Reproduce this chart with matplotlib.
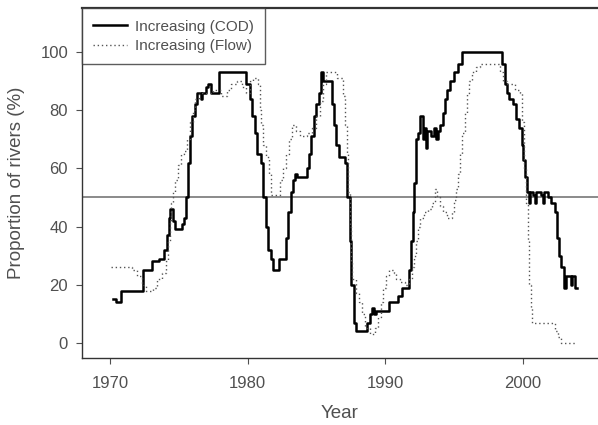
import matplotlib
matplotlib.use("Agg")
import matplotlib.pyplot as plt

# Increasing (COD): step points
cod_years = [1970.2, 1970.45, 1970.8, 1972.4, 1973.05, 1973.6, 1973.95, 1974.15, 1974.3, 1974.4,
             1974.6, 1974.75, 1975.2, 1975.4, 1975.55, 1975.7, 1975.8, 1975.95, 1976.15, 1976.35,
             1976.6, 1976.7, 1977.0, 1977.15, 1977.35, 1977.95, 1979.9, 1980.2, 1980.35, 1980.5,
             1980.7, 1980.95, 1981.15, 1981.35, 1981.5, 1981.7, 1981.85, 1982.3, 1982.8, 1982.95,
             1983.15, 1983.3, 1983.45, 1983.55, 1984.3, 1984.45, 1984.6, 1984.8, 1985.0, 1985.15,
             1985.3, 1985.5, 1986.1, 1986.25, 1986.45, 1986.6, 1987.05, 1987.25, 1987.4, 1987.5,
             1987.7, 1987.85, 1988.65, 1988.85, 1989.0, 1989.15, 1989.3, 1990.3, 1990.9, 1991.2,
             1991.7, 1991.85, 1992.0, 1992.1, 1992.2, 1992.35, 1992.55, 1992.7, 1992.8, 1992.95,
             1993.05, 1993.3, 1993.5, 1993.7, 1993.85, 1994.0, 1994.2, 1994.35, 1994.5, 1994.7,
             1994.95, 1995.3, 1995.55, 1998.45, 1998.7, 1998.8, 1999.0, 1999.3, 1999.5, 1999.7,
             1999.9, 2000.0, 2000.15, 2000.3, 2000.4, 2000.5, 2000.7, 2000.85, 2000.95, 2001.3,
             2001.45, 2001.55, 2001.8, 2002.0, 2002.3, 2002.45, 2002.6, 2002.75, 2002.95, 2003.15,
             2003.45, 2003.55, 2003.75, 2003.9]
cod_values = [15, 14, 18, 25, 28, 29, 32, 37, 43, 46,
              42, 39, 41, 43, 50, 62, 71, 78, 82, 86,
              84, 86, 88, 89, 86, 93, 89, 84, 78, 72,
              65, 62, 50, 40, 32, 29, 25, 29, 36, 45,
              52, 56, 58, 57, 60, 65, 71, 78, 82, 86,
              93, 90, 82, 75, 68, 64, 62, 50, 35, 20,
              7, 4, 7, 10, 12, 10, 11, 14, 16, 19,
              25, 35, 45, 55, 70, 72, 78, 70, 74, 67,
              73, 71, 74, 70, 73, 75, 79, 84, 87, 90,
              93, 96, 100, 96, 89, 86, 84, 82, 77, 74,
              68, 63, 57, 52, 48, 52, 51, 48, 52, 51,
              48, 52, 50, 48, 45, 36, 30, 26, 19, 23,
              20, 23, 19, 19]

# Increasing (Flow)
flow_years = [1970.1, 1971.6, 1972.0, 1972.3, 1972.6, 1973.1, 1973.4, 1973.8, 1974.1, 1974.25,
              1974.35, 1974.45, 1974.6, 1974.75, 1974.95, 1975.15, 1975.4, 1975.6, 1975.8, 1976.0,
              1976.2, 1976.45, 1977.2, 1977.5, 1978.1, 1978.5, 1978.8, 1979.2, 1979.6, 1979.9,
              1980.2, 1980.4, 1980.75, 1980.9, 1981.0, 1981.15, 1981.3, 1981.55, 1981.7, 1982.35,
              1982.55, 1982.8, 1983.0, 1983.2, 1983.5, 1983.8, 1984.3, 1984.7, 1985.0, 1985.25,
              1985.5, 1985.7, 1986.5, 1986.95, 1987.1, 1987.2, 1987.3, 1987.4, 1987.5, 1987.6,
              1987.85, 1988.1, 1988.3, 1988.5, 1988.9, 1989.25, 1989.45, 1989.65, 1989.85, 1990.05,
              1990.3, 1990.6, 1990.8, 1991.05, 1991.4, 1991.7, 1991.9, 1992.05, 1992.2, 1992.35,
              1992.55, 1992.8, 1993.1, 1993.4, 1993.6, 1993.75, 1993.95, 1994.2, 1994.45, 1994.85,
              1995.0, 1995.15, 1995.3, 1995.45, 1995.6, 1995.75, 1995.9, 1996.1, 1996.3, 1996.6,
              1996.9, 1998.3, 1998.55, 1998.8, 1999.4, 1999.75, 1999.95, 2000.1, 2000.2, 2000.35,
              2000.45, 2000.55, 2000.65, 2002.3, 2002.55, 2002.75, 2003.95]
flow_values = [26, 25, 23, 20, 18, 19, 22, 24, 28, 35,
               42, 48, 52, 56, 61, 65, 66, 70, 76, 80,
               84, 86, 86, 87, 85, 87, 89, 90, 88, 86,
               90, 91, 89, 80, 75, 68, 64, 58, 51, 56,
               60, 65, 70, 75, 73, 71, 72, 74, 78, 83,
               89, 93, 91, 85, 75, 65, 52, 40, 28, 22,
               17, 14, 10, 5, 3, 5, 9, 14, 19, 23,
               25, 24, 22, 21, 20, 22, 26, 30, 35, 40,
               43, 45, 46, 48, 53, 50, 47, 45, 43, 45,
               49, 53, 58, 65, 72, 79, 86, 90, 93, 95,
               96, 93, 90, 89, 87, 86, 76, 60, 48, 35,
               20, 12, 7, 4, 2, 0, 0]

x_ticks = [1970, 1980, 1990, 2000]
y_ticks = [0, 20, 40, 60, 80, 100]

plt.rcParams["font.family"] = ["Liberation Sans", "DejaVu Sans"]
grey = "#505050"

fig = plt.figure(figsize=(5.98, 4.25), dpi=100)
ax = fig.add_axes([0.137, 0.158, 0.863, 0.823])

ax.axhline(50, color="#777777", linewidth=1.2)
ax.plot(cod_years, cod_values, drawstyle="steps-post", color="black",
        linewidth=1.8, label="Increasing (COD)")
ax.plot(flow_years, flow_values, drawstyle="steps-post", color="#555555",
        linewidth=1.0, linestyle=(0, (1, 2)), label="Increasing (Flow)")

ax.set_xlim(1967.97, 2005.44)
ax.set_ylim(-5.15, 115.1)
ax.set_xticks(x_ticks)
ax.set_yticks(y_ticks)
ax.tick_params(direction="out", length=4, width=0.8, colors=grey, labelsize=12)
ax.tick_params(axis="x", pad=9)
ax.tick_params(axis="y", pad=6)
for side in ["left", "bottom", "top"]:
    ax.spines[side].set_color("#333333")
    ax.spines[side].set_linewidth(1.0)
ax.spines["top"].set_linewidth(1.6)
ax.spines["right"].set_visible(False)

ax.set_xlabel("Year", fontsize=13.5, color=grey, labelpad=10)
ax.set_ylabel("Proportion of rivers (%)", fontsize=13.5, color=grey, labelpad=11)

leg = ax.legend(loc="upper left", borderaxespad=0, fancybox=False,
                fontsize=11, handlelength=2.2, handletextpad=0.5,
                labelcolor=grey, borderpad=0.75, labelspacing=0.35)
leg.get_frame().set_edgecolor("#333333")
leg.get_frame().set_linewidth(1.0)

fig.savefig("out.png", dpi=100)
